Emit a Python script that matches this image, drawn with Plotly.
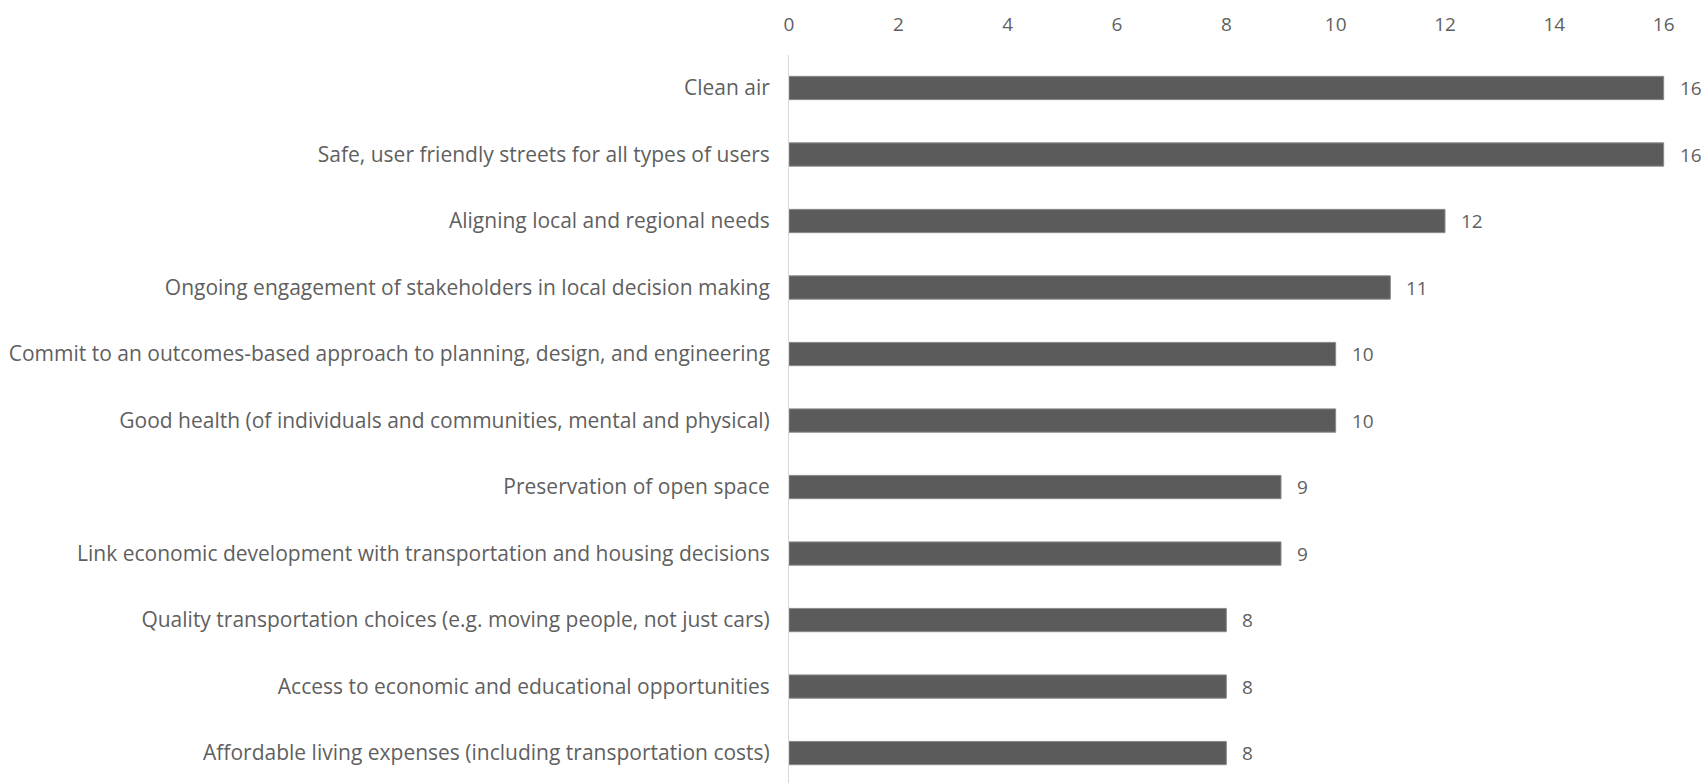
import plotly.graph_objects as go

categories = [
    "Clean air",
    "Safe, user friendly streets for all types of users",
    "Aligning local and regional needs",
    "Ongoing engagement of stakeholders in local decision making",
    "Commit to an outcomes-based approach to planning, design, and engineering",
    "Good health (of individuals and communities, mental and physical)",
    "Preservation of open space",
    "Link economic development with transportation and housing decisions",
    "Quality transportation choices (e.g. moving people, not just cars)",
    "Access to economic and educational opportunities",
    "Affordable living expenses (including transportation costs)",
]
values = [16, 16, 12, 11, 10, 10, 9, 9, 8, 8, 8]
x_ticks = [0, 2, 4, 6, 8, 10, 12, 14, 16]

positions = list(range(len(categories)))
TEXT = "#5f5f5f"
FONT = "Open Sans"

fig = go.Figure()
fig.add_trace(go.Bar(
    x=values,
    y=positions,
    orientation="h",
    width=0.35,
    marker=dict(color="#5b5b5b", line=dict(color="#8a8a8a", width=1)),
    hoverinfo="x+y",
))

for p, v in zip(positions, values):
    fig.add_annotation(x=v, y=p, text=str(v), showarrow=False,
                       xanchor="left", xshift=14,
                       font=dict(family=FONT, size=19, color=TEXT))

fig.update_layout(
    width=1706, height=783,
    margin=dict(l=789, r=15, t=55, b=0),
    paper_bgcolor="white", plot_bgcolor="white",
    showlegend=False,
    font=dict(family=FONT, color=TEXT),
)
fig.update_xaxes(
    side="top", range=[0, 16.5],
    tickvals=x_ticks, ticktext=[str(t) for t in x_ticks],
    showgrid=False, zeroline=False, showline=False,
    tickfont=dict(family=FONT, size=19, color=TEXT),
    ticks="", ticklabelstandoff=19,
)
fig.update_yaxes(
    range=[10.45, -0.496],
    tickvals=positions, ticktext=categories,
    showgrid=False, zeroline=False,
    showline=True, linecolor="#d9d9d9", linewidth=1,
    ticks="outside", ticklen=14, tickcolor="rgba(0,0,0,0)",
    tickfont=dict(family=FONT, size=21, color=TEXT),
)

fig.write_html("out.html")
